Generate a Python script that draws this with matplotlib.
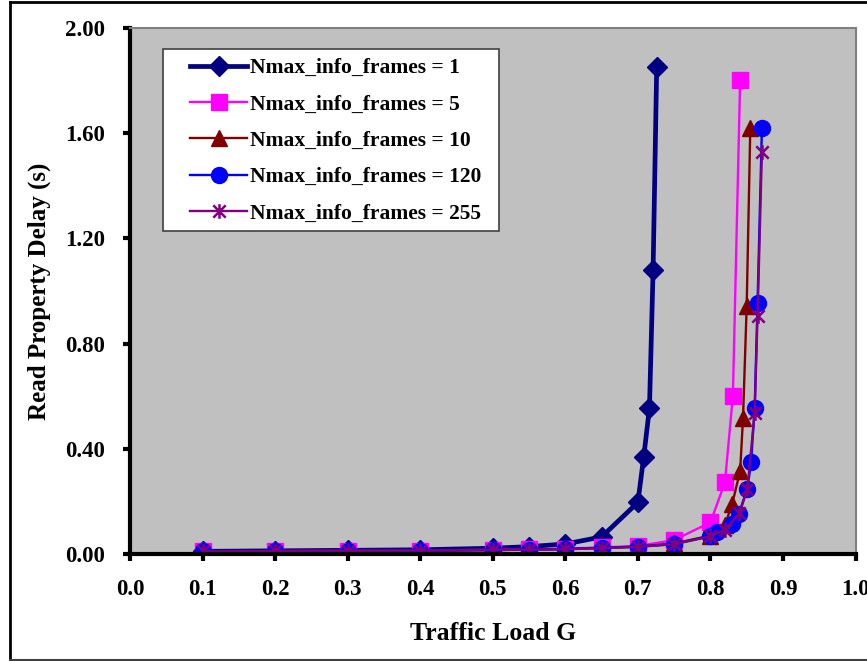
import numpy as np
import matplotlib.pyplot as plt
from matplotlib.path import Path
from matplotlib.lines import Line2D
from matplotlib.patches import Rectangle

# data
load_1 = [0.1, 0.2, 0.3, 0.4, 0.5, 0.55, 0.6, 0.65, 0.7, 0.708, 0.716, 0.721, 0.726]
delay_1 = [0.010, 0.012, 0.014, 0.016, 0.022, 0.028, 0.038, 0.065, 0.196, 0.367, 0.555, 1.078, 1.852]

load_5 = [0.1, 0.2, 0.3, 0.4, 0.5, 0.55, 0.6, 0.65, 0.7, 0.75, 0.8, 0.82, 0.831, 0.841]
delay_5 = [0.010, 0.011, 0.012, 0.013, 0.016, 0.018, 0.020, 0.025, 0.030, 0.053, 0.120, 0.272, 0.601, 1.803]

load_10 = [0.1, 0.2, 0.3, 0.4, 0.5, 0.55, 0.6, 0.65, 0.7, 0.75, 0.8, 0.82, 0.83, 0.841, 0.845, 0.85, 0.855]
delay_10 = [0.010, 0.011, 0.012, 0.013, 0.015, 0.017, 0.019, 0.023, 0.028, 0.040, 0.070, 0.110, 0.190, 0.316, 0.519, 0.942, 1.620]

load_120 = [0.1, 0.2, 0.3, 0.4, 0.5, 0.55, 0.6, 0.65, 0.7, 0.75, 0.8, 0.809, 0.83, 0.839, 0.851, 0.856, 0.861, 0.865, 0.871]
delay_120 = [0.010, 0.011, 0.012, 0.013, 0.015, 0.017, 0.019, 0.024, 0.028, 0.038, 0.068, 0.082, 0.114, 0.152, 0.249, 0.348, 0.554, 0.955, 1.619]

load_255 = [0.1, 0.2, 0.3, 0.4, 0.5, 0.55, 0.6, 0.65, 0.7, 0.75, 0.8, 0.82, 0.84, 0.851, 0.861, 0.865, 0.871]
delay_255 = [0.010, 0.011, 0.012, 0.013, 0.015, 0.016, 0.018, 0.022, 0.027, 0.037, 0.067, 0.092, 0.154, 0.247, 0.538, 0.905, 1.530]

labels = ['Nmax_info_frames = 1', 'Nmax_info_frames = 5', 'Nmax_info_frames = 10',
          'Nmax_info_frames = 120', 'Nmax_info_frames = 255']

x_ticks = [0.0, 0.1, 0.2, 0.3, 0.4, 0.5, 0.6, 0.7, 0.8, 0.9, 1.0]
y_ticks = [0.0, 0.4, 0.8, 1.2, 1.6, 2.0]

plt.rcParams['font.family'] = ['Liberation Serif', 'DejaVu Serif']
plt.rcParams['font.weight'] = 'bold'

W, H = 867, 661

# excel style star: X with a vertical bar
star = Path([(0, -1), (0, 1), (-0.85, -0.85), (0.85, 0.85), (-0.85, 0.85), (0.85, -0.85)],
            [Path.MOVETO, Path.LINETO, Path.MOVETO, Path.LINETO, Path.MOVETO, Path.LINETO])

fig = plt.figure(figsize=(W / 100, H / 100), dpi=100)
ax = fig.add_axes([130 / W, 107 / H, 725.5 / W, 526 / H])
ax.set_facecolor('#C0C0C0')

ax.plot(load_1, delay_1, color='#000080', lw=3.4, marker='D', ms=10, label=labels[0])
ax.plot(load_5, delay_5, color='#FF00FF', lw=1.7, marker='s', ms=11, label=labels[1])
ax.plot(load_10, delay_10, color='#800000', lw=1.7, marker='^', ms=12, label=labels[2])
ax.plot(load_120, delay_120, color='#0000FF', lw=1.7, marker='o', ms=11.5, label=labels[3])
ax.plot(load_255, delay_255, color='#800080', lw=1.7, marker=star, ms=10.5, mew=1.8,
        label=labels[4])

ax.set_xlim(0, 1.0)
ax.set_ylim(0, 2.0)
ax.set_xticks(x_ticks)
ax.set_yticks(y_ticks)
ax.set_xticklabels(['%.1f' % v for v in x_ticks])
ax.set_yticklabels(['%.2f' % v for v in y_ticks])
ax.tick_params(axis='both', labelsize=16.5, length=5, width=3, direction='out')
ax.tick_params(axis='y', pad=13)
ax.tick_params(axis='x', pad=13)

for side in ['left', 'bottom']:
    ax.spines[side].set_linewidth(3)
    ax.spines[side].set_color('black')
for side in ['top', 'right']:
    ax.spines[side].set_linewidth(1.5)
    ax.spines[side].set_color('#808080')

ax.set_xlabel('Traffic Load G', fontsize=18.5, fontweight='bold', labelpad=16)
ax.set_ylabel('Read Property Delay (s)', fontsize=18, fontweight='bold', labelpad=10)

# legend frame drawn by hand so the padding matches the excel box
frame = Rectangle((163 / W, 1 - 231 / H), (499 - 163) / W, (231 - 49) / H,
                  transform=fig.transFigure, facecolor='white', edgecolor='#404040',
                  lw=1.2, zorder=5)
ax.add_artist(frame)
frame.set_clip_on(False)

leg = ax.legend(loc='upper left', bbox_to_anchor=(190 / W, 1 - 58 / H),
                bbox_transform=fig.transFigure, fontsize=15.5, frameon=False,
                handlelength=2.65, handletextpad=0.15, labelspacing=0.76,
                borderpad=0, borderaxespad=0)
leg.set_zorder(6)

# outer chart border
fig.add_artist(Line2D([10 / W, 10 / W], [1 - 2 / H, 1 / H], color='black', lw=2))
fig.add_artist(Line2D([10 / W, 1.0], [1 - 2 / H, 1 - 2 / H], color='black', lw=2))
fig.add_artist(Line2D([10 / W, 1.0], [1 / H, 1 / H], color='#404040', lw=1.5))

fig.savefig('out.png', dpi=100)
